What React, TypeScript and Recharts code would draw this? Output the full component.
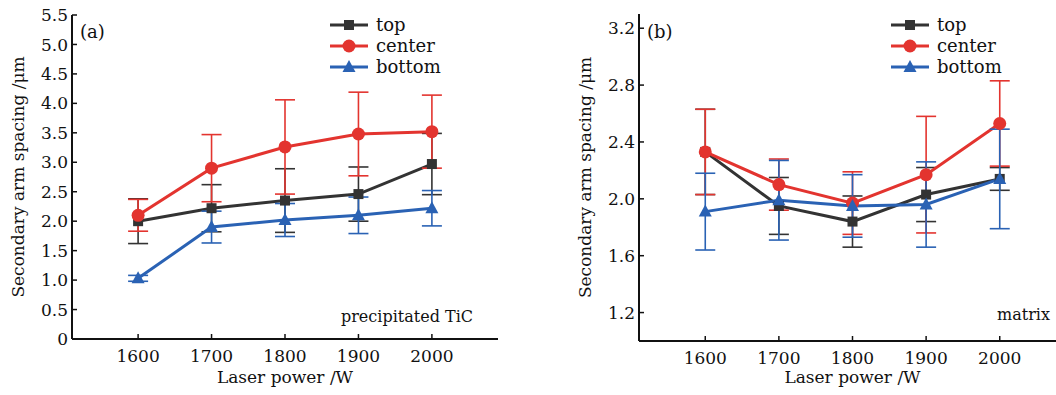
import { LineChart, Line, XAxis, YAxis, ErrorBar, Customized } from "recharts";

const powers = [1600, 1700, 1800, 1900, 2000];

// (a) precipitated TiC
const topA = [2.0, 2.22, 2.35, 2.46, 2.97];
const topAErr = [0.38, 0.4, 0.54, 0.46, 0.52];
const centerA = [2.1, 2.9, 3.26, 3.48, 3.52];
const centerAErr = [0.27, 0.57, 0.8, 0.71, 0.62];
const bottomA = [1.03, 1.9, 2.02, 2.1, 2.22];
const bottomAErr = [0.05, 0.27, 0.28, 0.31, 0.3];

// (b) matrix
const topB = [2.33, 1.95, 1.84, 2.03, 2.14];
const topBErr = [0.3, 0.2, 0.18, 0.19, 0.08];
const centerB = [2.33, 2.1, 1.97, 2.17, 2.53];
const centerBErr = [0.3, 0.18, 0.22, 0.41, 0.3];
const bottomB = [1.91, 1.99, 1.95, 1.96, 2.14];
const bottomBErr = [0.27, 0.28, 0.22, 0.3, 0.35];

const ticksA = [0, 0.5, 1.0, 1.5, 2.0, 2.5, 3.0, 3.5, 4.0, 4.5, 5.0, 5.5];
const ticksB = [1.2, 1.6, 2.0, 2.4, 2.8, 3.2];
const seriesNames = ["top", "center", "bottom"];

const FONT = "'DejaVu Serif', serif";
const AXIS = "#111";
const COLORS = ["#333333", "#e3342f", "#2a62b4"];

const makeRows = (t: number[], te: number[], c: number[], ce: number[], b: number[], be: number[]) =>
  powers.map((p, i) => ({
    power: p,
    top: t[i],
    topErr: te[i],
    center: c[i],
    centerErr: ce[i],
    bottom: b[i],
    bottomErr: be[i],
  }));

const dataA = makeRows(topA, topAErr, centerA, centerAErr, bottomA, bottomAErr);
const dataB = makeRows(topB, topBErr, centerB, centerBErr, bottomB, bottomBErr);

// markers
const Marker = ({ kind, cx, cy, color }: { kind: number; cx: number; cy: number; color: string }) => {
  if (kind === 0) return <rect x={cx - 5} y={cy - 5} width={10} height={10} fill={color} />;
  if (kind === 1) return <circle cx={cx} cy={cy} r={6.5} fill={color} />;
  return <polygon points={`${cx},${cy - 7} ${cx + 6.5},${cy + 5} ${cx - 6.5},${cy + 5}`} fill={color} />;
};

// ticks point inward, labels outside
const XTick = (props: any) => {
  const { x, y, payload } = props;
  return (
    <g>
      <line x1={x} x2={x} y1={y} y2={y - 5} stroke={AXIS} strokeWidth={1.5} />
      <text x={x} y={y + 23} textAnchor="middle" fontFamily={FONT} fontSize={17} fill="#111">
        {payload.value}
      </text>
    </g>
  );
};

const fmtY = (v: number) => (v === 0 ? "0" : v.toFixed(1));

const YTick = (props: any) => {
  const { x, y, payload } = props;
  return (
    <g>
      <line x1={x} x2={x + 5} y1={y} y2={y} stroke={AXIS} strokeWidth={1.5} />
      <text x={x - 4} y={y} dy="0.36em" textAnchor="end" fontFamily={FONT} fontSize={17} fill="#111">
        {fmtY(payload.value)}
      </text>
    </g>
  );
};

interface PanelProps {
  data: any[];
  yDomain: [number, number];
  yTicks: number[];
  width: number;
  yAxisWidth: number;
  top: number;
  right: number;
  xAxisHeight: number;
  yLabelOffset: number;
  tag: string;
  note: string;
  noteX: number;
  noteY: number;
  legendX: number;
  rightBorder: boolean;
}

const Panel = (p: PanelProps) => {
  const legend = () => (
    <g fontFamily={FONT} fontSize={18} fill="#111">
      {seriesNames.map((n, i) => {
        const y = 25 + i * 21;
        return (
          <g key={n}>
            <line x1={p.legendX} x2={p.legendX + 38} y1={y} y2={y} stroke={COLORS[i]} strokeWidth={3} />
            <Marker kind={i} cx={p.legendX + 19} cy={y} color={COLORS[i]} />
            <text x={p.legendX + 46} y={y + 6}>{n}</text>
          </g>
        );
      })}
    </g>
  );

  return (
    <LineChart
      width={p.width}
      height={395}
      data={p.data}
      margin={{ top: p.top, right: p.right, left: 0, bottom: 0 }}
    >
      <XAxis
        dataKey="power"
        type="number"
        domain={[1510, 2090]}
        ticks={powers}
        height={p.xAxisHeight}
        axisLine={{ stroke: AXIS, strokeWidth: 2 }}
        tickLine={false}
        tickSize={0}
        tickMargin={0}
        tick={<XTick />}
        label={{ value: "Laser power /W", position: "insideBottom", offset: 12, fontFamily: FONT, fontSize: 17, fill: "#111" }}
      />
      <XAxis xAxisId="top" orientation="top" height={0} tick={false} tickLine={false} axisLine={{ stroke: AXIS, strokeWidth: 2 }} />
      <YAxis
        type="number"
        domain={p.yDomain}
        ticks={p.yTicks}
        width={p.yAxisWidth}
        allowDataOverflow
        axisLine={{ stroke: AXIS, strokeWidth: 2 }}
        tickLine={false}
        tickSize={0}
        tickMargin={0}
        tick={<YTick />}
        label={{
          value: "Secondary arm spacing /μm",
          angle: -90,
          position: "insideLeft",
          offset: p.yLabelOffset,
          textAnchor: "middle",
          fontFamily: FONT,
          fontSize: 17,
          fill: "#111",
        }}
      />
      {p.rightBorder && (
        <YAxis yAxisId="right" orientation="right" width={0} tick={false} tickLine={false} axisLine={{ stroke: AXIS, strokeWidth: 2 }} />
      )}
      {seriesNames.map((n, i) => (
        <Line
          key={n}
          dataKey={n}
          stroke={COLORS[i]}
          strokeWidth={3}
          isAnimationActive={false}
          dot={(d: any) => <Marker key={`${n}-${d.index}`} kind={i} cx={d.cx} cy={d.cy} color={COLORS[i]} />}
          activeDot={false}
        >
          <ErrorBar dataKey={`${n}Err`} direction="y" width={10} stroke={COLORS[i]} strokeWidth={1.6} isAnimationActive={false} />
        </Line>
      ))}
      <Customized component={legend} />
      <Customized
        component={() => (
          <g fontFamily={FONT} fill="#111">
            <text x={p.yAxisWidth + 8} y={38} fontSize={18}>{p.tag}</text>
            <text x={p.noteX} y={p.noteY} fontSize={16} textAnchor="end">{p.note}</text>
          </g>
        )}
      />
    </LineChart>
  );
};

export default function App() {
  return (
    <div style={{ position: "absolute", left: 0, top: 0, width: 1056, height: 395, overflow: "hidden", background: "#fff" }}>
      <div style={{ position: "absolute", left: 0, top: 0 }}>
        <Panel
          data={dataA}
          yDomain={[0, 5.5]}
          yTicks={ticksA}
          width={520}
          yAxisWidth={72}
          top={15}
          right={22}
          xAxisHeight={56}
          yLabelOffset={18}
          tag="(a)"
          note="precipitated TiC"
          noteX={473}
          noteY={322}
          legendX={330}
          rightBorder
        />
      </div>
      <div style={{ position: "absolute", left: 540, top: 0 }}>
        <Panel
          data={dataB}
          yDomain={[1.0, 3.3]}
          yTicks={ticksB}
          width={540}
          yAxisWidth={99}
          top={14}
          right={14}
          xAxisHeight={54}
          yLabelOffset={45}
          tag="(b)"
          note="matrix"
          noteX={510}
          noteY={320}
          legendX={351}
          rightBorder={false}
        />
      </div>
    </div>
  );
}
